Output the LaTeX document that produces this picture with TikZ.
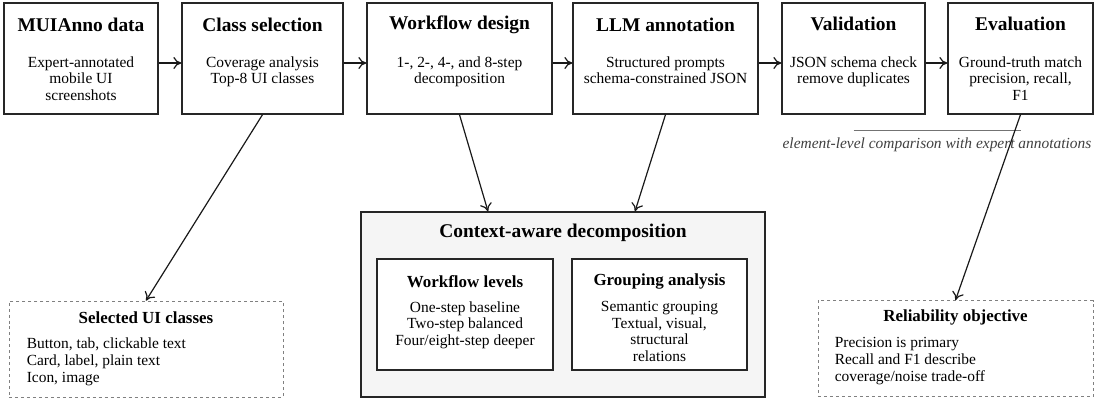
\documentclass[tikz,border=0pt]{standalone}
\usepackage{fontspec}
\setmainfont{Liberation Serif}
\usetikzlibrary{positioning,arrows.meta}
\tikzset{
  stage/.style={draw=black!85, line width=1.3bp, minimum width=#1, minimum height=111bp, inner sep=0pt},
  inner/.style={draw=black!85, line width=1.2bp, minimum width=#1, minimum height=111bp, inner sep=0pt, fill=white},
  note/.style={draw=black!50, dashed, line width=0.8bp, minimum width=#1, minimum height=96bp, inner sep=0pt},
  head/.style={font=\fontsize{19.5}{21}\selectfont\bfseries, inner sep=0pt},
  subhead/.style={font=\fontsize{17}{19}\selectfont\bfseries, inner sep=0pt},
  body/.style={font=\fontsize{15.5}{16.5}\selectfont, align=center, inner sep=0pt},
  listing/.style={font=\fontsize{15.5}{17}\selectfont, align=left, inner sep=0pt},
  flow/.style={-{To[length=8bp, width=12bp]}, line width=1.2bp, black!90}
}
\begin{document}
\begin{tikzpicture}[x=1bp, y=-1bp]
  \useasboundingbox (0,0) rectangle (1096,401);
  % pipeline stages
  \node[stage=154bp] (data) at (81,58.5) {};
  \node[stage=161bp] (cls) at (262.5,58.5) {};
  \node[stage=185bp] (wf) at (459.5,58.5) {};
  \node[stage=185bp] (llm) at (665.5,58.5) {};
  \node[stage=143bp] (val) at (853.5,58.5) {};
  \node[stage=145bp] (eval) at (1020.5,58.5) {};
  \node[head] (data-h) at ([yshift=-22bp]data.north) {MUIAnno data};
  \node[head] (cls-h) at ([yshift=-22bp]cls.north) {Class selection};
  \node[head] (wf-h) at ([yshift=-22bp]wf.north) {Workflow design};
  \node[head] (llm-h) at ([yshift=-22bp]llm.north) {LLM annotation};
  \node[head] (val-h) at ([yshift=-22bp]val.north) {Validation};
  \node[head] (eval-h) at ([yshift=-22bp]eval.north) {Evaluation};
  \node[body, anchor=north] (data-b) at ([yshift=-54bp]data.north) {Expert-annotated\\mobile UI\\screenshots};
  \node[body, anchor=north] (cls-b) at ([yshift=-54bp]cls.north) {Coverage analysis\\Top-8 UI classes};
  \node[body, anchor=north] (wf-b) at ([yshift=-54bp]wf.north) {1-, 2-, 4-, and 8-step\\decomposition};
  \node[body, anchor=north] (llm-b) at ([yshift=-54bp]llm.north) {Structured prompts\\schema-constrained JSON};
  \node[body, anchor=north] (val-b) at ([yshift=-54bp]val.north) {JSON schema check\\remove duplicates};
  \node[body, anchor=north] (eval-b) at ([yshift=-54bp]eval.north) {Ground-truth match\\precision, recall,\\F1};
  \draw[flow] ([yshift=-4.5bp]data.east) -- ([yshift=-4.5bp]cls.west);
  \draw[flow] ([yshift=-4.5bp]cls.east) -- ([yshift=-4.5bp]wf.west);
  \draw[flow] ([yshift=-4.5bp]wf.east) -- ([yshift=-4.5bp]llm.west);
  \draw[flow] ([yshift=-4.5bp]llm.east) -- ([yshift=-4.5bp]val.west);
  \draw[flow] ([yshift=-4.5bp]val.east) -- ([yshift=-4.5bp]eval.west);
  % comparison note
  \coordinate (cmp-l) at ([yshift=-16bp]val.south);
  \coordinate (cmp-r) at ([yshift=-16bp]eval.south);
  \draw[black!55, line width=0.6bp] (cmp-l) -- node[below=4bp, font=\fontsize{15.5}{17}\selectfont\itshape, text=black!75] (cmp) {element-level comparison with expert annotations} (cmp-r);
  % context-aware block
  \node[draw=black!85, line width=1.3bp, fill=black!4, minimum width=404bp, minimum height=185bp, inner sep=0pt] (ctx) at (563,304.5) {};
  \node[head] (ctx-h) at ([yshift=-21bp]ctx.north) {Context-aware decomposition};
  \node[inner=176bp] (lvl) at (465,314.5) {};
  \node[inner=175bp] (grp) at (659.5,314.5) {};
  \node[subhead] (lvl-h) at ([yshift=-23bp]lvl.north) {Workflow levels};
  \node[subhead] (grp-h) at ([yshift=-23bp]grp.north) {Grouping analysis};
  \node[body, anchor=north] (lvl-b) at ([yshift=-43bp]lvl.north) {One-step baseline\\Two-step balanced\\Four/eight-step deeper};
  \node[body, anchor=north] (grp-b) at ([yshift=-43bp]grp.north) {Semantic grouping\\Textual, visual,\\structural\\relations};
  % side notes
  \node[note=274bp] (sel) at (146,349) {};
  \node[note=275bp] (rel) at (955.5,348.5) {};
  \node[subhead] (sel-h) at ([yshift=-17bp]sel.north) {Selected UI classes};
  \node[subhead] (rel-h) at ([yshift=-17bp]rel.north) {Reliability objective};
  \node[listing, anchor=north west] (sel-b) at ([xshift=18bp, yshift=-37bp]sel.north west) {Button, tab, clickable text\\Card, label, plain text\\Icon, image};
  \node[listing, anchor=north west] (rel-b) at ([xshift=17bp, yshift=-37bp]rel.north west) {Precision is primary\\Recall and F1 describe\\coverage/noise trade-off};
  % links down
  \draw[flow] (cls.south) -- (sel.north);
  \draw[flow] (wf.south) -- ([xshift=-75bp]ctx.north);
  \draw[flow] (llm.south) -- ([xshift=72bp]ctx.north);
  \draw[flow] (eval.south) -- (rel.north);
\end{tikzpicture}
\end{document}
